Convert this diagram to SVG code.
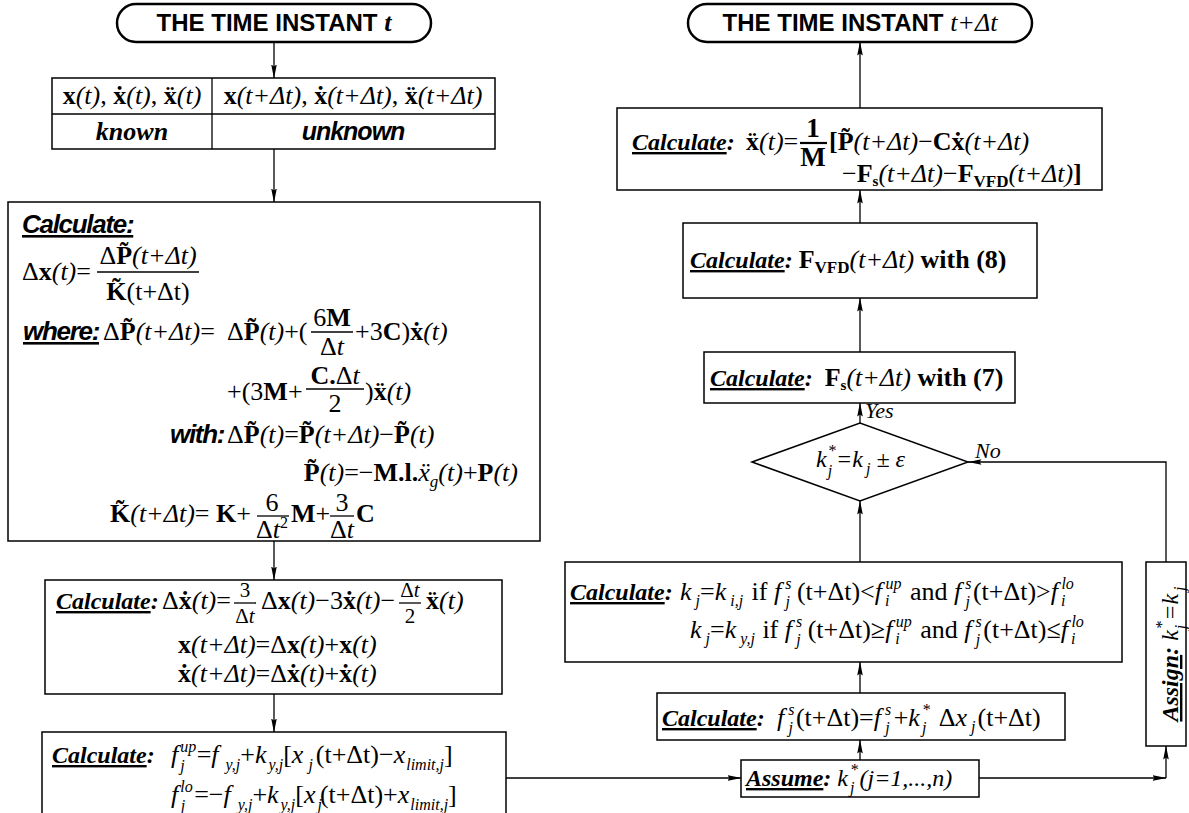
<svg xmlns="http://www.w3.org/2000/svg" width="1189" height="813" viewBox="0 0 1189 813">
<defs>
<marker id="ah" viewBox="0 0 14 8" refX="13.5" refY="4" markerWidth="14" markerHeight="8" markerUnits="userSpaceOnUse" orient="auto"><path d="M0,1.2 L14,4 L0,6.8 L2,4 z" fill="#000"/></marker>
</defs>
<style>
.box{fill:#fff;stroke:#000;stroke-width:1.5}
.pill{fill:#fff;stroke:#000;stroke-width:2.5}
.fb{stroke:#000;stroke-width:1.3}
.cn{fill:none;stroke:#000;stroke-width:1.3}
.cna{fill:none;stroke:#000;stroke-width:1.3;marker-end:url(#ah)}
text{fill:#000}
.sr{font-family:"Liberation Serif","Times New Roman",serif}
.ss{font-family:"Liberation Sans",Arial,sans-serif}
.b{font-weight:bold}
.i{font-style:italic}
.u{text-decoration:underline}
.m{font-size:26px}
.lb{font-family:"Liberation Sans",Arial,sans-serif;font-weight:bold;font-style:italic;font-size:26px;letter-spacing:-1.3px;text-decoration:underline}
.cal{font-family:"Liberation Serif","Times New Roman",serif;font-weight:bold;font-style:italic;font-size:24px}
.sc{font-size:16px}
</style>
<rect width="1189" height="813" fill="#fff"/>

<g id="connectors">
<path class="cna" d="M274,42 V78"/>
<path class="cna" d="M274,149 V202"/>
<path class="cna" d="M274,541 V580"/>
<path class="cna" d="M274,694 V732"/>
<path class="cna" d="M506,778 H741"/>
<path class="cna" d="M979,778 H1166"/>
<path class="cna" d="M1166,778 V746"/>
<path class="cna" d="M1166,562 V462 H968"/>
<path class="cna" d="M860,760 V740"/>
<path class="cna" d="M860,693 V662"/>
<path class="cna" d="M860,562 V501"/>
<path class="cna" d="M860,423 V403"/>
<path class="cna" d="M860,352 V298"/>
<path class="cna" d="M860,223 V190"/>
<path class="cna" d="M860,108 V42"/>
<text x="865" y="418" class="sr i" font-size="22">Yes</text>
<text x="975" y="458" class="sr i" font-size="22">No</text>
</g>

<g id="start-t">
<rect x="117" y="4" width="314" height="38" rx="19" class="pill"/>
<text x="274" y="31" text-anchor="middle" class="ss b" font-size="24">THE TIME INSTANT <tspan class="sr i" font-size="26">t</tspan></text>
</g>

<g id="state-table">
<rect x="52" y="78" width="443" height="71" class="box"/>
<line x1="212" y1="78" x2="212" y2="149" class="fb"/>
<line x1="52" y1="114" x2="495" y2="114" class="fb"/>
<text x="132" y="104" text-anchor="middle" class="sr m"><tspan class="b">x</tspan><tspan class="i">(t)</tspan>, <tspan class="b">x&#x307;</tspan><tspan class="i">(t)</tspan>, <tspan class="b">x&#x308;</tspan><tspan class="i">(t)</tspan></text>
<text x="353" y="104" text-anchor="middle" class="sr m"><tspan class="b">x</tspan><tspan class="i">(t+Δt)</tspan>, <tspan class="b">x&#x307;</tspan><tspan class="i">(t+Δt)</tspan>, <tspan class="b">x&#x308;</tspan><tspan class="i">(t+Δt)</tspan></text>
<text x="132" y="140" text-anchor="middle" class="sr b i m">known</text>
<text x="353" y="140" text-anchor="middle" class="ss b i" font-size="25" letter-spacing="-1">unknown</text>
</g>

<g id="calc-dx">
<rect x="8" y="202" width="532" height="339" class="box"/>
<text x="22" y="233" class="lb">Calculate:</text>
<text x="22" y="280" class="sr m">Δ<tspan class="b">x</tspan><tspan class="i">(t)</tspan>=</text>
<text x="148" y="264" text-anchor="middle" class="sr m">Δ<tspan class="b">P&#x303;</tspan><tspan class="i">(t+Δt)</tspan></text>
<line x1="97" y1="272" x2="199" y2="272" class="fb"/>
<text x="148" y="300" text-anchor="middle" class="sr m"><tspan class="b">K&#x303;</tspan>(t+Δt)</text>
<text x="23" y="340" class="lb" letter-spacing="-1.6">where:</text>
<text x="103" y="340" class="sr m">Δ<tspan class="b">P&#x303;</tspan><tspan class="i">(t+Δt)</tspan>=</text>
<text x="227" y="340" class="sr m">Δ<tspan class="b">P&#x303;</tspan><tspan class="i">(t)</tspan>+(</text>
<text x="332" y="326" text-anchor="middle" class="sr m">6<tspan class="b">M</tspan></text>
<line x1="311" y1="332" x2="353" y2="332" class="fb"/>
<text x="332" y="355" text-anchor="middle" class="sr m">Δ<tspan class="i">t</tspan></text>
<text x="355" y="340" class="sr m">+3<tspan class="b">C</tspan>)<tspan class="b">x&#x307;</tspan><tspan class="i">(t)</tspan></text>
<text x="227" y="400" class="sr m">+(3<tspan class="b">M</tspan>+</text>
<text x="335" y="384" text-anchor="middle" class="sr m"><tspan class="b">C.</tspan>Δ<tspan class="i">t</tspan></text>
<line x1="306" y1="389" x2="364" y2="389" class="fb"/>
<text x="335" y="412" text-anchor="middle" class="sr m">2</text>
<text x="365" y="400" class="sr m">)<tspan class="b">x&#x308;</tspan><tspan class="i">(t)</tspan></text>
<text x="170" y="443" class="ss b i" font-size="26" letter-spacing="-1.3">with:</text>
<text x="227" y="443" class="sr m">Δ<tspan class="b">P&#x303;</tspan><tspan class="i">(t)</tspan>=<tspan class="b">P&#x303;</tspan><tspan class="i">(t+Δt)</tspan>−<tspan class="b">P&#x303;</tspan><tspan class="i">(t)</tspan></text>
<text x="518" y="481" text-anchor="end" class="sr m"><tspan class="b">P&#x303;</tspan><tspan class="i">(t)</tspan>=−<tspan class="b">M.l.</tspan><tspan class="i">x&#x308;</tspan><tspan class="i" font-size="17" dy="6">g</tspan><tspan class="i" dy="-6">(t)</tspan>+<tspan class="b">P</tspan><tspan class="i">(t)</tspan></text>
<text x="110" y="522" class="sr m"><tspan class="b">K&#x303;</tspan><tspan class="i">(t+Δt)</tspan>= <tspan class="b">K</tspan>+</text>
<text x="272" y="511" text-anchor="middle" class="sr m">6</text>
<line x1="257" y1="516" x2="289" y2="516" class="fb"/>
<text x="256" y="538" class="sr m">Δ<tspan class="i">t</tspan><tspan font-size="16" dy="-10">2</tspan></text>
<text x="291" y="522" class="sr m"><tspan class="b">M</tspan>+</text>
<text x="342" y="511" text-anchor="middle" class="sr m">3</text>
<line x1="330" y1="516" x2="354" y2="516" class="fb"/>
<text x="342" y="538" text-anchor="middle" class="sr m">Δ<tspan class="i">t</tspan></text>
<text x="356" y="522" class="sr m b">C</text>
</g>

<g id="calc-dxdot">
<rect x="45" y="580" width="457" height="114" class="box"/>
<text x="56" y="609" class="cal"><tspan class="u">Calculate</tspan>:</text>
<text x="162" y="609" class="sr m">Δ<tspan class="b">x&#x307;</tspan><tspan class="i">(t)</tspan>=</text>
<text x="245" y="597" text-anchor="middle" class="sr" font-size="21">3</text>
<line x1="234" y1="603" x2="256" y2="603" class="fb"/>
<text x="245" y="623" text-anchor="middle" class="sr" font-size="21">Δ<tspan class="i">t</tspan></text>
<text x="261" y="609" class="sr m">Δ<tspan class="b">x</tspan><tspan class="i">(t)</tspan>−3<tspan class="b">x&#x307;</tspan><tspan class="i">(t)</tspan>−</text>
<text x="410" y="597" text-anchor="middle" class="sr" font-size="21">Δ<tspan class="i">t</tspan></text>
<line x1="399" y1="603" x2="421" y2="603" class="fb"/>
<text x="410" y="623" text-anchor="middle" class="sr" font-size="21">2</text>
<text x="426" y="609" class="sr m"><tspan class="b">x&#x308;</tspan><tspan class="i">(t)</tspan></text>
<text x="178" y="653" class="sr m"><tspan class="b">x</tspan><tspan class="i">(t+Δt)</tspan>=Δ<tspan class="b">x</tspan><tspan class="i">(t)</tspan>+<tspan class="b">x</tspan><tspan class="i">(t)</tspan></text>
<text x="178" y="682" class="sr m"><tspan class="b">x&#x307;</tspan><tspan class="i">(t+Δt)</tspan>=Δ<tspan class="b">x&#x307;</tspan><tspan class="i">(t)</tspan>+<tspan class="b">x&#x307;</tspan><tspan class="i">(t)</tspan></text>
</g>

<g id="calc-flimits">
<rect x="42" y="732" width="464" height="110" class="box"/>
<text x="52" y="763" class="cal"><tspan class="u">Calculate</tspan>:</text>
<text x="171" y="763" class="sr m"><tspan class="i">f</tspan><tspan class="i sc" dx="2" dy="-11">up</tspan><tspan class="i sc" dx="-16" dy="19">j</tspan><tspan dx="12" dy="-8">=</tspan><tspan class="i">f</tspan><tspan class="i sc" dx="7" dy="7">y,j</tspan><tspan dy="-7">+</tspan><tspan class="i">k</tspan><tspan class="i sc" dx="2" dy="7">y,j</tspan><tspan dy="-7">[</tspan><tspan class="i">x</tspan><tspan class="i sc" dx="5" dy="7">j</tspan><tspan dx="3" dy="-7">(t+Δt)−</tspan><tspan class="i">x</tspan><tspan class="i sc" dx="1" dy="7">limit,j</tspan><tspan dy="-7">]</tspan></text>
<text x="171" y="803" class="sr m"><tspan class="i">f</tspan><tspan class="i sc" dx="2" dy="-11">lo</tspan><tspan class="i sc" dx="-12" dy="19">j</tspan><tspan dx="9" dy="-8">=−</tspan><tspan class="i">f</tspan><tspan class="i sc" dx="7" dy="7">y,j</tspan><tspan dy="-7">+</tspan><tspan class="i">k</tspan><tspan class="i sc" dx="2" dy="7">y,j</tspan><tspan dy="-7">[</tspan><tspan class="i">x</tspan><tspan class="i sc" dx="2" dy="7">j</tspan><tspan dx="-2" dy="-7">(t+Δt)+</tspan><tspan class="i">x</tspan><tspan class="i sc" dx="1" dy="7">limit,j</tspan><tspan dy="-7">]</tspan></text>
</g>

<g id="end-tdt">
<rect x="688" y="4" width="344" height="38" rx="19" class="pill"/>
<text x="860" y="31" text-anchor="middle" class="ss b" font-size="24">THE TIME INSTANT <tspan class="sr i" font-size="26" style="font-weight:normal">t+Δt</tspan></text>
</g>

<g id="calc-acc">
<rect x="617" y="108" width="485" height="82" class="box"/>
<text x="632" y="150" class="cal"><tspan class="u">Calculate</tspan>:</text>
<text x="746" y="150" class="sr m"><tspan class="b">x&#x308;</tspan><tspan class="i">(t)</tspan>=</text>
<text x="813" y="137" text-anchor="middle" class="sr b" font-size="27">1</text>
<line x1="800" y1="143" x2="827" y2="143" stroke="#000" stroke-width="2.2"/>
<text x="813" y="166" text-anchor="middle" class="sr b" font-size="27">M</text>
<text x="829" y="150" class="sr m"><tspan class="b">[P&#x303;</tspan><tspan class="i">(t+Δt)</tspan>−<tspan class="b">Cx&#x307;</tspan><tspan class="i">(t+Δt)</tspan></text>
<text x="842" y="182" class="sr m">−<tspan class="b">F</tspan><tspan class="b" font-size="15" dy="4">s</tspan><tspan class="i" dy="-4">(t+Δt)</tspan>−<tspan class="b">F</tspan><tspan class="b" font-size="17" dy="5">VFD</tspan><tspan class="i" dy="-5">(t+Δt)</tspan><tspan class="b">]</tspan></text>
</g>

<g id="calc-fvfd">
<rect x="683" y="223" width="354" height="75" class="box"/>
<text x="690" y="268" class="cal"><tspan class="u">Calculate</tspan>: <tspan class="m" style="font-style:normal">F</tspan><tspan font-size="17" style="font-style:normal" dy="5">VFD</tspan><tspan class="m" style="font-weight:normal" dy="-5">(t+Δt)</tspan><tspan class="m" style="font-style:normal"> with (8)</tspan></text>
</g>

<g id="calc-fs">
<rect x="704" y="352" width="311" height="51" class="box"/>
<text x="710" y="386" class="cal" xml:space="preserve"><tspan class="u">Calculate</tspan>:  <tspan class="m" style="font-style:normal">F</tspan><tspan font-size="15" style="font-style:normal" dy="4">s</tspan><tspan class="m" style="font-weight:normal" dy="-4">(t+Δt)</tspan><tspan class="m" style="font-style:normal"> with (7)</tspan></text>
</g>

<g id="check-k">
<polygon points="752,462 860,423 968,462 860,501" class="box"/>
<text x="816" y="467" class="sr i" font-size="24">k<tspan class="sc" dx="1" dy="-11">*</tspan><tspan class="sc" dx="-8" dy="20">j</tspan><tspan dx="4" dy="-9">=k</tspan><tspan class="sc" dx="3" dy="7">j</tspan><tspan dy="-7"> ± ε</tspan></text>
</g>

<g id="calc-kj">
<rect x="565" y="562" width="557" height="100" class="box"/>
<text x="570" y="600" class="cal"><tspan class="u">Calculate</tspan>:</text>
<text x="680" y="600" class="sr" font-size="26"><tspan class="i">k</tspan><tspan class="i sc" dx="4" dy="6">j</tspan><tspan dy="-6">=</tspan><tspan class="i">k</tspan><tspan class="i sc" dx="4" dy="6">i,j</tspan><tspan dx="2" dy="-6"> if  </tspan><tspan class="i">f</tspan><tspan class="i sc" dx="4" dy="-11">s</tspan><tspan class="i sc" dx="-6" dy="18">j</tspan><tspan dx="7" dy="-7">(t+Δt)&lt;</tspan><tspan class="i">f</tspan><tspan class="i sc" dx="3" dy="6">i</tspan><tspan class="i sc" dx="-4" dy="-17">up</tspan><tspan dx="2" dy="11"> and </tspan><tspan class="i">f</tspan><tspan class="i sc" dx="4" dy="-11">s</tspan><tspan class="i sc" dx="-6" dy="18">j</tspan><tspan dx="3" dy="-7">(t+Δt)&gt;</tspan><tspan class="i">f</tspan><tspan class="i sc" dx="3" dy="6">i</tspan><tspan class="i sc" dx="-4" dy="-17">lo</tspan></text>
<text x="690" y="638" class="sr" font-size="26"><tspan class="i">k</tspan><tspan class="i sc" dx="4" dy="6">j</tspan><tspan dy="-6">=</tspan><tspan class="i">k</tspan><tspan class="i sc" dx="4" dy="6">y,j</tspan><tspan dx="1" dy="-6"> if </tspan><tspan class="i">f</tspan><tspan class="i sc" dx="4" dy="-11">s</tspan><tspan class="i sc" dx="-6" dy="18">j</tspan><tspan dx="7" dy="-7">(t+Δt)≥</tspan><tspan class="i">f</tspan><tspan class="i sc" dx="3" dy="6">i</tspan><tspan class="i sc" dx="-4" dy="-17">up</tspan><tspan dx="2" dy="11"> and </tspan><tspan class="i">f</tspan><tspan class="i sc" dx="4" dy="-11">s</tspan><tspan class="i sc" dx="-6" dy="18">j</tspan><tspan dx="3" dy="-7">(t+Δt)≤</tspan><tspan class="i">f</tspan><tspan class="i sc" dx="3" dy="6">i</tspan><tspan class="i sc" dx="-4" dy="-17">lo</tspan></text>
</g>

<g id="calc-fs-j">
<rect x="657" y="693" width="408" height="47" class="box"/>
<text x="662" y="726" class="cal"><tspan class="u">Calculate</tspan>:</text>
<text x="777" y="726" class="sr" font-size="26"><tspan class="i">f</tspan><tspan class="i sc" dx="4" dy="-11">s</tspan><tspan class="i sc" dx="-6" dy="18">j</tspan><tspan dx="3" dy="-7">(t+Δt)=</tspan><tspan class="i">f</tspan><tspan class="i sc" dx="4" dy="-11">s</tspan><tspan class="i sc" dx="-6" dy="18">j</tspan><tspan dx="4" dy="-7">+</tspan><tspan class="i">k</tspan><tspan class="i sc" dx="2" dy="-11">*</tspan><tspan class="i sc" dx="-8" dy="18">j</tspan><tspan dx="6" dy="-7"> Δ</tspan><tspan class="i">x</tspan><tspan class="i sc" dx="4" dy="6">j</tspan><tspan dx="2" dy="-6">(t+Δt)</tspan></text>
</g>

<g id="assume">
<rect x="741" y="760" width="238" height="37" class="box"/>
<text x="746" y="786" class="cal" font-size="25"><tspan class="u">Assume</tspan>: <tspan class="i" style="font-weight:normal">k</tspan><tspan class="sc" style="font-weight:normal" dx="2" dy="-11">*</tspan><tspan class="sc" style="font-weight:normal" dx="-8" dy="18">j</tspan><tspan style="font-weight:normal" dx="5" dy="-7">(j=1,...,n)</tspan></text>
</g>

<g id="assign">
<rect x="1146" y="562" width="40" height="184" class="box"/>
<text transform="translate(1178,654) rotate(-90)" text-anchor="middle" class="sr" font-size="24"><tspan class="b i u">Assign</tspan><tspan class="b i">:</tspan> <tspan class="i">k</tspan><tspan class="i sc" dx="1" dy="-11">*</tspan><tspan class="i sc" dx="-8" dy="19">j</tspan><tspan class="i" dx="4" dy="-8">=k</tspan><tspan class="i sc" dx="3" dy="7">j</tspan></text>
</g>
</svg>
